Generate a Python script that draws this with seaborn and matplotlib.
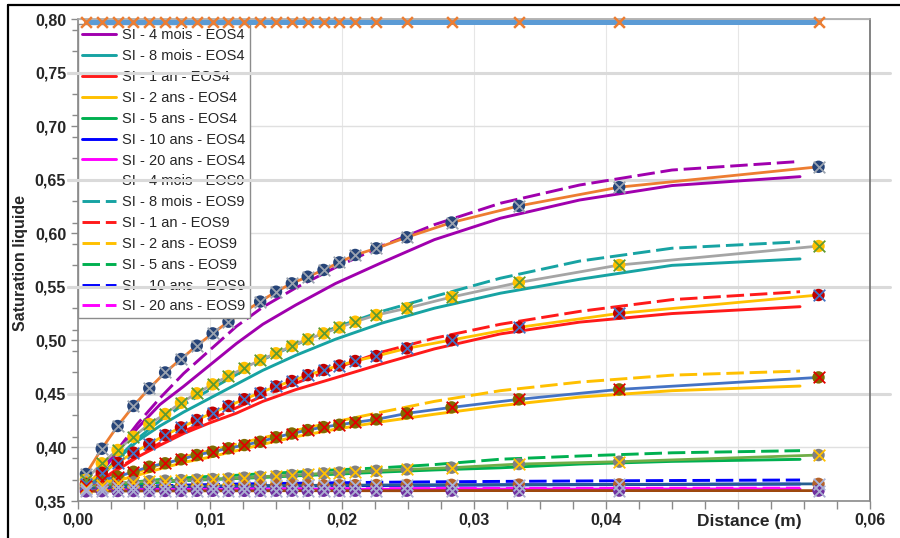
import numpy as np
import pandas as pd
import matplotlib
matplotlib.use("Agg")
import matplotlib.pyplot as plt
import seaborn as sns
from matplotlib.ticker import MultipleLocator, FixedLocator, FuncFormatter
from matplotlib.lines import Line2D

# ---------------- data ----------------
durations = ["4 mois", "8 mois", "1 an", "2 ans", "5 ans", "10 ans", "20 ans"]

x_sim = [0.0006, 0.0018, 0.0030, 0.0045, 0.0062, 0.0080, 0.0100, 0.0120, 0.0140,
         0.0165, 0.0195, 0.0230, 0.0270, 0.0320, 0.0380, 0.0450, 0.0547]

eos4_4mois = [0.362, 0.378, 0.396, 0.418, 0.440, 0.457, 0.477, 0.497, 0.515, 0.533, 0.553, 0.5725, 0.594, 0.614, 0.631, 0.6445, 0.6528]
eos4_8mois = [0.362, 0.373, 0.389, 0.406, 0.420, 0.433, 0.446, 0.459, 0.472, 0.486, 0.501, 0.516, 0.530, 0.544, 0.557, 0.570, 0.576]
eos4_1an = [0.362, 0.369, 0.379, 0.391, 0.402, 0.413, 0.423, 0.432, 0.443, 0.454, 0.465, 0.478, 0.492, 0.506, 0.517, 0.525, 0.5314]
eos4_2ans = [0.361, 0.365, 0.369, 0.374, 0.380, 0.386, 0.391, 0.397, 0.403, 0.410, 0.417, 0.424, 0.431, 0.439, 0.447, 0.453, 0.4573]
eos4_5ans = [0.360, 0.362, 0.364, 0.366, 0.3675, 0.369, 0.370, 0.371, 0.372, 0.3735, 0.375, 0.377, 0.379, 0.381, 0.3845, 0.387, 0.3889]
eos4_10ans = [0.3605, 0.3612, 0.3618, 0.3623, 0.3627, 0.3630, 0.3633, 0.3636, 0.3638, 0.3640, 0.3642, 0.3645, 0.3647, 0.3650, 0.3652, 0.3655, 0.3658]
eos4_20ans = [0.3598, 0.3600, 0.3601, 0.3602, 0.3603, 0.3604, 0.3605, 0.3606, 0.3606, 0.3607, 0.3608, 0.3609, 0.3610, 0.3611, 0.3611, 0.3612, 0.3612]

eos9_4mois = [0.363, 0.379, 0.398, 0.422, 0.446, 0.469, 0.491, 0.513, 0.531, 0.549, 0.568, 0.588, 0.608, 0.628, 0.645, 0.659, 0.667]
eos9_8mois = [0.362, 0.374, 0.390, 0.408, 0.425, 0.440, 0.454, 0.468, 0.482, 0.496, 0.512, 0.527, 0.541, 0.558, 0.574, 0.586, 0.592]
eos9_1an = [0.362, 0.370, 0.380, 0.392, 0.404, 0.415, 0.426, 0.437, 0.448, 0.460, 0.474, 0.489, 0.502, 0.515, 0.527, 0.538, 0.5454]
eos9_2ans = [0.361, 0.366, 0.371, 0.377, 0.384, 0.391, 0.397, 0.403, 0.409, 0.416, 0.424, 0.433, 0.443, 0.453, 0.461, 0.4675, 0.4713]
eos9_5ans = [0.361, 0.364, 0.366, 0.368, 0.370, 0.3715, 0.373, 0.374, 0.3755, 0.377, 0.379, 0.381, 0.384, 0.389, 0.392, 0.395, 0.397]
eos9_10ans = [0.3608, 0.3618, 0.3627, 0.3635, 0.3642, 0.3648, 0.3653, 0.3658, 0.3662, 0.3666, 0.3670, 0.3675, 0.3679, 0.3683, 0.3687, 0.3691, 0.3696]
eos9_20ans = [0.3599, 0.3602, 0.3604, 0.3606, 0.3607, 0.3609, 0.3610, 0.3611, 0.3612, 0.3613, 0.3614, 0.3615, 0.3616, 0.3617, 0.3618, 0.3619, 0.3620]

x_ref = [0.0006, 0.0018, 0.0030, 0.0042, 0.0054, 0.0066, 0.0078, 0.0090, 0.0102, 0.0114, 0.0126, 0.0138,
         0.0150, 0.0162, 0.0174, 0.0186, 0.0198, 0.0210, 0.0226, 0.0249, 0.0283, 0.0334, 0.0410, 0.0561]

ref_init = [0.7975, 0.7975, 0.7975, 0.7975, 0.7975, 0.7975, 0.7975, 0.7975, 0.7975, 0.7975, 0.7975, 0.7975,
            0.7975, 0.7975, 0.7975, 0.7975, 0.7975, 0.7975, 0.7975, 0.7975, 0.7975, 0.7975, 0.7975, 0.7975]
ref_4mois = [0.3752, 0.3988, 0.4200, 0.4387, 0.4552, 0.4700, 0.4825, 0.4950, 0.5065, 0.5174, 0.5267, 0.5362,
             0.5454, 0.5532, 0.5594, 0.5657, 0.5728, 0.5797, 0.5859, 0.5962, 0.6100, 0.6255, 0.6430, 0.6620]
ref_8mois = [0.3700, 0.3852, 0.3976, 0.4100, 0.4218, 0.4312, 0.4417, 0.4505, 0.4589, 0.4667, 0.4742, 0.4816,
             0.4879, 0.4947, 0.5010, 0.5065, 0.5120, 0.5174, 0.5236, 0.5299, 0.5404, 0.5540, 0.5703, 0.5880]
ref_1an = [0.3660, 0.3764, 0.3857, 0.3951, 0.4032, 0.4116, 0.4187, 0.4256, 0.4324, 0.4387, 0.4450, 0.4511,
           0.4570, 0.4620, 0.4675, 0.4723, 0.4765, 0.4807, 0.4853, 0.4925, 0.5003, 0.5121, 0.5252, 0.5423]
ref_2ans = [0.3640, 0.3696, 0.3727, 0.3773, 0.3820, 0.3852, 0.3889, 0.3929, 0.3960, 0.3992, 0.4022, 0.4053,
            0.4095, 0.4130, 0.4162, 0.4190, 0.4212, 0.4234, 0.4262, 0.4318, 0.4374, 0.4449, 0.4542, 0.4654]
ref_5ans = [0.3620, 0.3650, 0.3665, 0.3675, 0.3685, 0.3690, 0.3695, 0.3700, 0.3705, 0.3710, 0.3718, 0.3727,
            0.3733, 0.3742, 0.3749, 0.3758, 0.3766, 0.3773, 0.3782, 0.3795, 0.3811, 0.3845, 0.3867, 0.3929]
ref_10ans = [0.3615, 0.3625, 0.3630, 0.3633, 0.3635, 0.3637, 0.3638, 0.3640, 0.3641, 0.3642, 0.3643, 0.3644,
             0.3645, 0.3645, 0.3646, 0.3647, 0.3647, 0.3648, 0.3649, 0.3650, 0.3651, 0.3653, 0.3655, 0.3660]
ref_20ans = [0.3590, 0.3592, 0.3593, 0.3593, 0.3594, 0.3594, 0.3594, 0.3595, 0.3595, 0.3595, 0.3595, 0.3595,
             0.3596, 0.3596, 0.3596, 0.3596, 0.3596, 0.3596, 0.3596, 0.3596, 0.3597, 0.3597, 0.3597, 0.3597]

y_ticks = [0.35, 0.40, 0.45, 0.50, 0.55, 0.60, 0.65, 0.70, 0.75, 0.80]
x_ticks = [0.00, 0.01, 0.02, 0.03, 0.04, 0.05, 0.06]
x_tick_labels = ["0,00", "0,01", "0,02", "0,03", "0,04", "", "0,06"]

# ---------------- styles ----------------
sim_colors = ["#A000AE", "#17A3A3", "#FF1A1A", "#FFC000", "#00B050", "#0000FF", "#FF00FF"]
ref_line_colors = ["#ED7D31", "#A5A5A5", "#FFC000", "#4472C4", "#70AD47", "#255E91", "#9E480E"]
ref_circle_colors = ["#264478", "#FFC000", "#C00000", "#7F6A00", "#808080", "#B4622A", "#7030A0"]
ref_x_colors = ["#9AA3B0", "#5E9A32", "#4472C4", "#E00000", "#FFC000", "#A9B4D8", "#A9ACD0"]

eos4_list = [eos4_4mois, eos4_8mois, eos4_1an, eos4_2ans, eos4_5ans, eos4_10ans, eos4_20ans]
eos9_list = [eos9_4mois, eos9_8mois, eos9_1an, eos9_2ans, eos9_5ans, eos9_10ans, eos9_20ans]
ref_list = [ref_4mois, ref_8mois, ref_1an, ref_2ans, ref_5ans, ref_10ans, ref_20ans]

sns.set_theme(style="white")
plt.rcParams["font.family"] = ["Liberation Sans", "DejaVu Sans"]

fig = plt.figure(figsize=(9.0, 5.38), dpi=100)
ax = fig.add_axes([78 / 900, 37 / 538, 792 / 900, 482 / 538])

rows = []
for d, ys in zip(durations, eos4_list):
    for xv, yv in zip(x_sim, ys):
        rows.append({"x": xv, "y": yv, "label": f"SI - {d} - EOS4"})
for d, ys in zip(durations, eos9_list):
    for xv, yv in zip(x_sim, ys):
        rows.append({"x": xv, "y": yv, "label": f"SI - {d} - EOS9"})
sim_df = pd.DataFrame(rows)

labels4 = [f"SI - {d} - EOS4" for d in durations]
labels9 = [f"SI - {d} - EOS9" for d in durations]
palette = {**dict(zip(labels4, sim_colors)), **dict(zip(labels9, sim_colors))}
dashes = {**{l: "" for l in labels4}, **{l: (6, 2) for l in labels9}}

sns.lineplot(data=sim_df, x="x", y="y", hue="label", style="label",
             hue_order=labels4 + labels9, style_order=labels4 + labels9,
             palette=palette, dashes=dashes, linewidth=2.1, sort=False,
             estimator=None, legend=False, ax=ax, zorder=2)

# reference series (lines + circles + crosses)
for ys, lc, cc, xc in zip(ref_list, ref_line_colors, ref_circle_colors, ref_x_colors):
    sns.lineplot(x=x_ref, y=ys, color=lc, linewidth=2.0, sort=False, estimator=None,
                 legend=False, ax=ax, zorder=3)
    sns.scatterplot(x=x_ref, y=ys, color=cc, marker="o", s=80, edgecolor="none",
                    legend=False, ax=ax, zorder=4)
    sns.scatterplot(x=x_ref, y=ys, color=xc, marker="x", s=70, linewidth=1.3,
                    legend=False, ax=ax, zorder=4.5)

# initial state line at top
sns.lineplot(x=x_ref, y=ref_init, color="#5B9BD5", linewidth=3.6, sort=False,
             estimator=None, legend=False, ax=ax, zorder=6, clip_on=False)
sns.scatterplot(x=x_ref, y=ref_init, color="#ED7D31", marker="x", s=60, linewidth=1.8,
                legend=False, ax=ax, zorder=6.5, clip_on=False)

# ---------------- axes ----------------
ax.set_xlim(0, 0.06)
ax.set_ylim(0.35, 0.80)
ax.xaxis.set_major_locator(FixedLocator(x_ticks))
ax.set_xticklabels(x_tick_labels)
ax.xaxis.set_minor_locator(MultipleLocator(0.0025))
ax.yaxis.set_major_locator(FixedLocator(y_ticks))
ax.yaxis.set_major_formatter(FuncFormatter(lambda v, p: f"{v:.2f}".replace(".", ",")))
ax.yaxis.set_minor_locator(FixedLocator([0.79, 0.77, 0.73, 0.71, 0.69, 0.67, 0.63, 0.61, 0.59,
                                         0.57, 0.53, 0.51, 0.49, 0.47, 0.43, 0.41, 0.39, 0.37]))

ax.tick_params(axis="x", which="both", direction="out", length=6, width=1,
               color="#8A8A8A", pad=2, labelsize=11.5, bottom=True)
ax.tick_params(axis="y", which="major", direction="out", length=5, width=1,
               color="#8A8A8A", pad=3.5, labelsize=11.5, left=True)
ax.tick_params(axis="y", which="minor", direction="out", length=4, width=1,
               color="#8A8A8A", left=True)
for lab in ax.get_xticklabels() + ax.get_yticklabels():
    lab.set_fontweight("bold")

ax.grid(False)
ax.yaxis.grid(True, which="major", color="#E0E0E0", linewidth=1.0, zorder=0)
ax.xaxis.grid(True, which="major", color="#E6E6E6", linewidth=0.8, zorder=0)
ax.set_axisbelow(True)

for v in [0.45, 0.55, 0.65, 0.75]:
    ax.axhline(v, xmin=-0.012, xmax=1.025, color="#DADADA", linewidth=2.2,
               zorder=1, clip_on=False)

ax.spines["left"].set_color("#8A8A8A")
ax.spines["bottom"].set_color("#8A8A8A")
ax.spines["right"].set_color("#6E6E6E")
ax.spines["top"].set_color("#A8A8A8")
for s in ax.spines.values():
    s.set_linewidth(1.2)

ax.set_xlabel("Distance (m)", fontsize=12.5, fontweight="bold")
ax.xaxis.label.set_va("center")
ax.xaxis.set_label_coords(0.847, -0.042)
ax.set_ylabel("Saturation liquide", fontsize=11.5, fontweight="bold")
ax.yaxis.label.set_va("center")
ax.yaxis.set_label_coords(-0.072, 0.494)

# legend
handles = []
for lab, c in zip(labels4, sim_colors):
    handles.append(Line2D([0], [0], color=c, linewidth=2.1, label=lab))
for lab, c in zip(labels9, sim_colors):
    handles.append(Line2D([0], [0], color=c, linewidth=2.1, dashes=(6, 2), label=lab))
leg = ax.legend(handles=handles, loc="upper left", bbox_to_anchor=(0.0, 0.9896),
                borderaxespad=0, fontsize=10.5, handlelength=2.3, handletextpad=0.45,
                labelspacing=0.47, borderpad=0.3, frameon=True, fancybox=False,
                edgecolor="#8C8C8C", framealpha=1.0)
leg.get_frame().set_linewidth(1.0)
leg.set_zorder(5)

# grid bands drawn across legend area
for v in [0.65, 0.75, 0.55]:
    ax.axhline(v, xmin=-0.012, xmax=0.22, color="#DADADA", linewidth=2.2,
               zorder=5.5, clip_on=False)

# outer frame of picture
fig.add_artist(Line2D([8 / 900, 1.0], [1 - 5 / 538, 1 - 5 / 538], transform=fig.transFigure,
                      color="black", linewidth=1.6))
fig.add_artist(Line2D([8 / 900, 8 / 900], [0.0, 1 - 5 / 538], transform=fig.transFigure,
                      color="black", linewidth=1.6))

fig.savefig("out.png", dpi=100)
